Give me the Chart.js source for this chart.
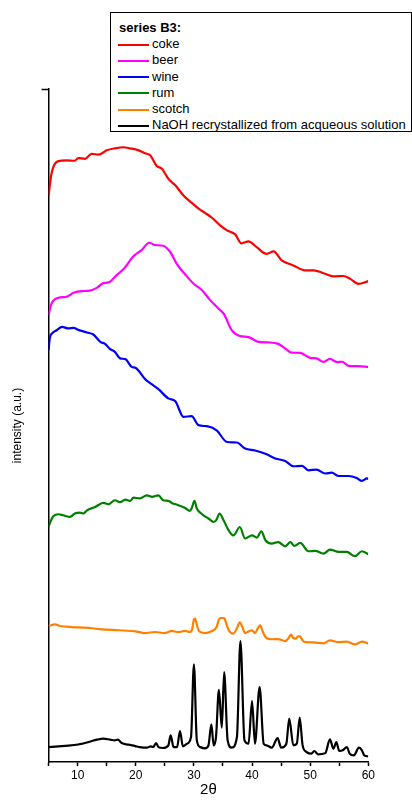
<!DOCTYPE html>
<html>
<head>
<meta charset="utf-8">
<script src="https://cdn.jsdelivr.net/npm/chart.js@4"></script>
<style>
  html, body { margin: 0; padding: 0; background: #fff; }
  #wrap { position: relative; width: 412px; height: 805px; }
  #legend {
    position: absolute; left: 110px; top: 12px; width: 302px; height: 120px;
    box-sizing: border-box; border: 1px solid #000; background: #fff;
    font: 13px "Liberation Sans", Arial, sans-serif; color: #000;
    padding: 7px 0 0 7px; line-height: 16.2px;
  }
  #legend .title { font-weight: bold; padding-left: 1px; }
  #legend .row { white-space: nowrap; }
  #legend .swatch { display: inline-block; width: 31px; height: 2px; vertical-align: middle; margin-right: 3px; }
</style>
</head>
<body>
<div id="wrap">
  <canvas id="chart"></canvas>
  <div id="legend"></div>
</div>
<script>
'use strict';

// ── Data (2θ in degrees, intensity in arbitrary units, curves offset) ─────────

const legendTitle = 'series B3:';
const seriesNames = ['coke', 'beer', 'wine', 'rum', 'scotch', 'NaOH recrystallized from acqueous solution'];
const seriesColors = ['#ff0000', '#ff00ff', '#0000ff', '#008000', '#ff8000', '#000000'];

const cokeX = [5.0, 5.5, 6.7, 8.1, 9.5, 10.1, 11.3, 12.4, 13.6, 15.0, 16.4, 17.9, 19.0, 20.4, 21.6, 22.5, 23.6, 24.5, 25.6, 26.8, 28.2, 29.6, 31.1, 31.9, 33.1, 34.5, 35.7, 37.1, 38.2, 39.4, 40.8, 42.5, 43.7, 45.1, 47.1, 49.1, 50.6, 52.3, 54.0, 55.7, 56.9, 58.3, 60.0];
const cokeY = [2400, 2522, 2593, 2597, 2595, 2610, 2606, 2634, 2629, 2654, 2665, 2671, 2665, 2655, 2637, 2625, 2565, 2550, 2493, 2456, 2399, 2358, 2318, 2301, 2273, 2230, 2202, 2179, 2128, 2140, 2107, 2069, 2083, 2032, 2004, 1976, 1976, 1960, 1942, 1944, 1928, 1900, 1915];

const beerX = [5.0, 5.4, 6.7, 8.1, 9.3, 10.7, 11.8, 13.3, 14.4, 15.3, 16.7, 18.0, 19.6, 21.0, 22.3, 23.3, 24.7, 25.9, 27.1, 28.5, 29.9, 31.4, 32.8, 34.2, 35.2, 36.5, 37.9, 39.4, 41.1, 42.8, 44.5, 45.7, 46.8, 48.3, 50.0, 51.1, 52.3, 53.4, 54.6, 55.5, 56.6, 58.3, 60.0];
const beerY = [1723, 1780, 1821, 1827, 1849, 1859, 1860, 1877, 1904, 1908, 1949, 1987, 2056, 2090, 2132, 2119, 2115, 2081, 2010, 1953, 1902, 1864, 1808, 1761, 1727, 1638, 1605, 1599, 1572, 1569, 1561, 1535, 1512, 1510, 1482, 1479, 1459, 1476, 1458, 1460, 1437, 1435, 1431];

const wineX = [5.0, 5.2, 5.6, 6.4, 7.3, 8.4, 9.3, 10.1, 11.6, 12.7, 13.9, 14.7, 15.6, 16.4, 17.3, 18.2, 19.3, 20.0, 21.6, 22.8, 23.9, 25.6, 26.8, 28.2, 29.6, 30.8, 32.2, 33.9, 35.7, 37.4, 38.8, 40.5, 42.3, 44.0, 45.7, 47.1, 48.6, 49.7, 51.1, 52.6, 53.7, 54.9, 56.6, 58.0, 58.9, 59.8, 60.0];
const wineY = [1525, 1592, 1620, 1638, 1657, 1648, 1651, 1640, 1625, 1614, 1572, 1561, 1531, 1516, 1479, 1475, 1431, 1425, 1362, 1332, 1305, 1253, 1237, 1149, 1153, 1102, 1096, 1073, 1007, 1004, 970, 959, 940, 914, 900, 870, 872, 847, 851, 829, 834, 815, 815, 804, 787, 801, 797];

const rumX = [5.0, 5.8, 6.7, 7.5, 8.7, 9.5, 10.4, 11.0, 11.6, 13.0, 14.4, 15.3, 16.4, 17.3, 18.2, 19.0, 19.6, 20.7, 21.9, 22.8, 23.9, 24.7, 25.6, 26.2, 27.3, 28.5, 29.3, 29.6, 30.1, 30.5, 31.4, 32.5, 33.4, 33.9, 34.4, 35.1, 35.9, 36.8, 37.9, 38.8, 40.0, 40.8, 41.6, 42.3, 43.4, 44.5, 45.7, 46.6, 47.3, 48.3, 49.7, 50.9, 52.3, 53.4, 54.9, 56.3, 57.7, 58.9, 60.0];
const rumY = [530, 588, 599, 593, 584, 603, 608, 603, 621, 640, 663, 655, 678, 667, 682, 674, 693, 688, 706, 697, 706, 678, 674, 663, 650, 634, 618, 631, 674, 631, 599, 575, 555, 569, 603, 565, 512, 480, 527, 462, 480, 467, 503, 452, 433, 442, 418, 441, 420, 437, 390, 392, 377, 399, 386, 386, 362, 390, 373];

const scotchX = [5.0, 6.1, 7.0, 9.0, 11.3, 14.1, 17.0, 19.9, 21.6, 23.3, 25.0, 26.2, 27.3, 28.5, 29.3, 29.7, 30.0, 30.2, 30.5, 30.9, 31.9, 33.1, 33.9, 34.3, 34.6, 35.2, 35.5, 35.9, 36.8, 37.4, 37.9, 38.3, 38.8, 39.4, 40.0, 40.5, 41.0, 41.4, 41.8, 42.3, 43.4, 44.5, 45.7, 46.3, 46.7, 47.1, 47.5, 48.0, 48.3, 48.8, 49.4, 50.9, 52.3, 53.4, 54.9, 56.3, 57.7, 58.9, 60.0];
const scotchY = [-34, -23, -32, -38, -41, -51, -56, -62, -72, -66, -72, -60, -66, -60, -66, -50, 5, 10, -25, -62, -72, -60, -38, 5, 13, 13, -10, -50, -75, -45, -12, -35, -72, -63, -56, -72, -45, -28, -60, -94, -107, -106, -117, -100, -81, -100, -103, -89, -92, -118, -123, -126, -130, -113, -123, -120, -136, -120, -132];

const naohX = [5.0, 6.7, 8.4, 10.1, 11.8, 13.3, 14.4, 15.6, 16.4, 16.9, 17.6, 18.7, 19.9, 20.7, 21.9, 22.6, 23.0, 23.5, 23.9, 24.7, 25.6, 26.0, 26.5, 27.1, 27.6, 28.1, 28.8, 29.5, 30.0, 30.5, 31.1, 31.9, 32.5, 33.0, 33.4, 33.8, 34.3, 34.8, 35.2, 35.8, 36.5, 37.4, 38.0, 38.7, 39.4, 40.0, 40.5, 41.3, 42.0, 42.5, 43.4, 44.4, 45.0, 45.9, 46.4, 47.1, 47.7, 48.2, 48.7, 49.4, 50.2, 50.7, 51.4, 52.6, 53.4, 54.0, 54.5, 55.0, 55.6, 56.3, 56.8, 57.5, 58.4, 58.9, 59.3, 60.0];
const naohY = [-716, -712, -708, -701, -688, -674, -668, -674, -678, -674, -693, -702, -710, -716, -719, -712, -716, -693, -716, -721, -706, -650, -716, -716, -625, -712, -697, -659, -249, -678, -716, -723, -706, -588, -706, -659, -392, -606, -292, -678, -719, -659, -117, -678, -697, -456, -697, -377, -697, -706, -719, -665, -719, -697, -555, -706, -697, -550, -706, -744, -753, -738, -757, -750, -672, -725, -688, -738, -734, -716, -753, -763, -719, -734, -763, -768];

const seriesX = [cokeX, beerX, wineX, rumX, scotchX, naohX];
const seriesY = [cokeY, beerY, wineY, rumY, scotchY, naohY];

// ── Chart ─────────────────────────────────────────────────────────────────────

const FONT = '"Liberation Sans", Arial, sans-serif';

// y axis: long ticks every 1000, short ticks in between, no labels
const yTicks = {
  id: 'yTicks',
  afterDraw(chart) {
    const s = chart.scales.y;
    const ctx = chart.ctx;
    ctx.save();
    ctx.strokeStyle = '#000';
    ctx.lineWidth = 1.5;
    s.ticks.forEach(t => {
      if (t.value % 500 !== 0) return;
      const y = Math.round(s.getPixelForValue(t.value)) + 0.5;
      const len = t.value % 1000 === 0 ? 7 : 4;
      ctx.beginPath();
      ctx.moveTo(s.right - len, y);
      ctx.lineTo(s.right, y);
      ctx.stroke();
    });
    ctx.restore();
  },
};

const chart = new Chart(document.getElementById('chart'), {
  type: 'line',
  data: {
    datasets: seriesNames.map((name, i) => ({
      label: name,
      data: seriesX[i].map((x, k) => ({ x, y: seriesY[i][k] })),
      borderColor: seriesColors[i],
      borderWidth: 2.2,
      pointRadius: 0,
      cubicInterpolationMode: 'monotone',
      fill: false,
    })),
  },
  options: {
    responsive: true,
    maintainAspectRatio: false,
    animation: false,
    layout: { padding: { top: 89, right: 43.7, left: 0, bottom: 0 } },
    plugins: { legend: { display: false }, tooltip: { enabled: false } },
    scales: {
      x: {
        type: 'linear',
        min: 5,
        max: 60,
        afterFit: s => { s.height = 43; },
        border: { display: true, color: '#000', width: 1.5 },
        grid: { drawOnChartArea: false, drawTicks: true, tickLength: 4, tickColor: '#000', tickWidth: 1.5 },
        ticks: {
          stepSize: 5,
          autoSkip: false,
          maxRotation: 0,
          padding: 2,
          color: '#000',
          font: { family: FONT, size: 12 },
          callback: v => (v % 10 === 0 ? String(v) : ''),
        },
        title: { display: true, text: '2θ', color: '#000', font: { family: FONT, size: 15 }, padding: { top: 0, bottom: 6 } },
      },
      y: {
        min: -800,
        max: 3000,
        afterFit: s => { s.width = 48.6; },
        border: { display: true, color: '#000', width: 1.5 },
        grid: { display: false },
        ticks: { stepSize: 500, display: false },
        title: { display: true, text: 'intensity (a.u.)', color: '#000', font: { family: FONT, size: 12 }, padding: { top: 10, bottom: 0 } },
      },
    },
  },
  plugins: [yTicks],
});

// ── Legend (boxed, with title) ───────────────────────────────────────────────

const legend = document.getElementById('legend');
legend.innerHTML = `<div class="title">${legendTitle}</div>` +
  chart.data.datasets.map(d => `
    <div class="row"><span class="swatch" style="background:${d.borderColor}"></span>${d.label}</div>`).join('');
</script>
</body>
</html>
